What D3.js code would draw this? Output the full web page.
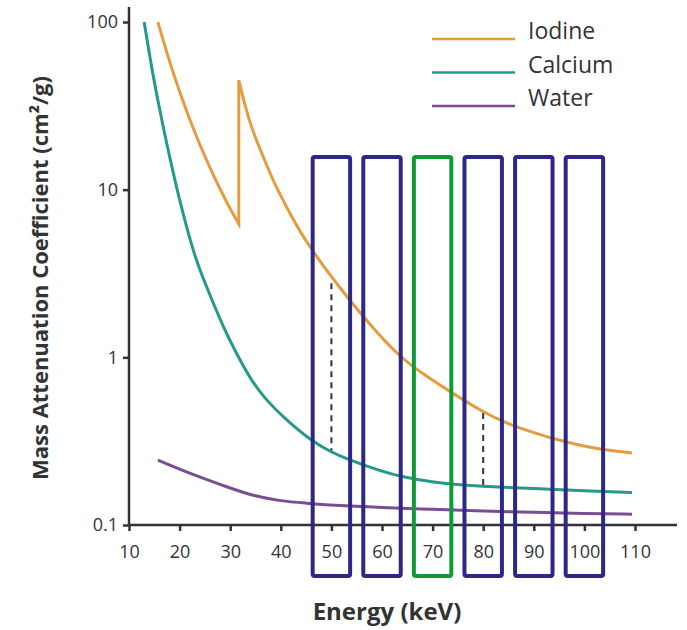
<!DOCTYPE html>
<html>
<head>
<meta charset="utf-8">
<script src="https://cdn.jsdelivr.net/npm/d3@7"></script>
<style>
  body { margin: 0; background: #fff; }
  text { font-family: "Open Sans", sans-serif; fill: #333; }
</style>
</head>
<body>
<script>
const w = 687; // width
const h = 630; // height

// energies (keV) and mass attenuation coefficients (cm2/g)
const iodineLowE = [15.7, 18, 20, 22, 24, 26, 28, 30, 31.7];
const iodineLowV = [100, 58, 38.2, 26.2, 18.5, 13.5, 10.05, 7.65, 6.25];
const iodineHighE = [31.7, 32.9, 34.2, 35.55, 37.2, 38.85, 40.5, 42.15, 44, 45.9, 48.7, 50.7, 54.1, 58.5, 63.6, 68.5, 73.8, 80, 85, 90, 95, 100, 104.5, 109.4];
const iodineHighV = [45, 32, 23.5, 18.5, 14, 10.7, 8.6, 6.9, 5.5, 4.5, 3.4, 2.85, 2.1, 1.46, 1.0, 0.78, 0.615, 0.47, 0.4, 0.355, 0.32, 0.294, 0.279, 0.269];
const calciumE = [13, 14.3, 15.7, 17.1, 18.5, 20, 22.4, 24, 26.4, 28.5, 30.9, 34, 37, 40.8, 46.2, 50, 53, 60, 64.2, 70, 74.8, 80, 90, 100, 109.4];
const calciumV = [100, 57, 34, 21, 13.6, 8.6, 4.6, 3.3, 2.2, 1.55, 1.1, 0.74, 0.56, 0.43, 0.315, 0.272, 0.248, 0.208, 0.193, 0.18, 0.174, 0.17, 0.165, 0.16, 0.156];
const waterE = [15.7, 20, 25, 30, 35, 40, 45, 50, 60, 70, 80, 90, 100, 109.4];
const waterV = [0.244, 0.215, 0.188, 0.166, 0.148, 0.139, 0.135, 0.131, 0.127, 0.124, 0.121, 0.119, 0.117, 0.116];

// energy windows
const boxEnergies = [50, 60, 70, 80, 90, 100];
const highlightEnergy = 70;
const boxHalfWidth = 3.7; // keV

// dashed differences
const dashE = [50, 80];
const dashTop = [2.77, 0.465];
const dashBottom = [0.272, 0.169];

const xTicks = [10, 20, 30, 40, 50, 60, 70, 80, 90, 100, 110];
const yTicks = [0.1, 1, 10, 100];

const series = [
    {name: "Iodine", color: "#e59b3f"},
    {name: "Calcium", color: "#24998c"},
    {name: "Water", color: "#7a4c95"}
];

const zip = (es, vs) => es.map((e, i) => ({e: e, v: vs[i]}));

let svg = d3.select("body")
    .append("svg")
    .attr('width', w)
    .attr('height', h);

// scales
let x = d3.scaleLinear()
    .domain([10, 110])
    .range([129, 635]);

let y = d3.scaleLog()
    .domain([0.1, 100])
    .range([525, 22]);

let line = d3.line()
    .x(d => x(d.e))
    .y(d => y(d.v))
    .curve(d3.curveBasis);

// dashed lines
svg.selectAll('.dash')
    .data(dashE)
    .enter()
    .append('line')
    .attr('x1', d => x(d))
    .attr('x2', d => x(d))
    .attr('y1', (d, i) => y(dashTop[i]))
    .attr('y2', (d, i) => y(dashBottom[i]))
    .attr('stroke', '#333')
    .attr('stroke-width', 2)
    .attr('stroke-dasharray', '6,5');

// curves (iodine has the K-edge jump between its two parts)
let iodinePath = line(zip(iodineLowE, iodineLowV)) + line(zip(iodineHighE, iodineHighV)).replace(/^M/, 'L');
svg.append('path')
    .attr('d', iodinePath)
    .attr('fill', 'none')
    .attr('stroke', series[0].color)
    .attr('stroke-width', 3)
    .attr('stroke-linejoin', 'miter');

svg.append('path')
    .attr('d', line(zip(calciumE, calciumV)))
    .attr('fill', 'none')
    .attr('stroke', series[1].color)
    .attr('stroke-width', 3);

svg.append('path')
    .attr('d', line(zip(waterE, waterV)))
    .attr('fill', 'none')
    .attr('stroke', series[2].color)
    .attr('stroke-width', 3);

// x axis
let axisX = d3.axisBottom(x)
    .tickValues(xTicks)
    .tickSize(6)
    .tickPadding(14)
    .tickSizeOuter(0);
let gX = svg.append("g")
    .attr('transform', `translate(0,${y(0.1)})`)
    .call(axisX);
gX.select('.domain').attr('d', `M${x(10)},0H677`);

// y axis
let axisY = d3.axisLeft(y)
    .tickValues(yTicks)
    .tickFormat(d => String(d))
    .tickSize(6)
    .tickPadding(5)
    .tickSizeOuter(0);
let gY = svg.append("g")
    .attr('transform', `translate(${x(10)},0)`)
    .call(axisY);
gY.select('.domain').attr('d', `M0,7V${y(0.1)}`);

svg.selectAll('.domain, .tick line')
    .attr('stroke', '#333')
    .attr('stroke-width', 2.5);
svg.selectAll('.tick text')
    .style('font-family', '"Open Sans", sans-serif')
    .style('font-size', '18px')
    .attr('fill', '#333');

// energy windows
const boxTop = 157;
const boxBottom = 576;
svg.selectAll('.box')
    .data(boxEnergies)
    .enter()
    .append('rect')
    .attr('x', d => x(d - boxHalfWidth))
    .attr('y', boxTop)
    .attr('width', d => x(d + boxHalfWidth) - x(d - boxHalfWidth))
    .attr('height', boxBottom - boxTop)
    .attr('rx', 2)
    .attr('fill', 'none')
    .attr('stroke', d => d === highlightEnergy ? '#109a3a' : '#2d2887')
    .attr('stroke-width', 4);

// legend
let legend = svg.selectAll('.legend')
    .data(series)
    .enter()
    .append('g')
    .attr('transform', (d, i) => `translate(432,${39 + i * 33.5})`);
legend.append('line')
    .attr('x1', 0)
    .attr('x2', 83)
    .attr('stroke', d => d.color)
    .attr('stroke-width', 2.5);
legend.append('text')
    .attr('x', 96)
    .attr('y', -2)
    .attr('dy', '0.1em')
    .style('font-size', '23px')
    .text(d => d.name);

// x axis label
svg.append("text")
    .attr("text-anchor", "middle")
    .attr("x", 387)
    .attr("y", 620)
    .style('font-size', '24px')
    .style('font-weight', 'bold')
    .text("Energy (keV)");

// y axis label
svg.append("text")
    .attr("text-anchor", "middle")
    .attr("transform", "rotate(-90)")
    .attr("x", -278)
    .attr("y", 48)
    .style('font-size', '22px')
    .style('font-weight', 'bold')
    .text("Mass Attenuation Coefficient (cm²/g)");
</script>
</body>
</html>
